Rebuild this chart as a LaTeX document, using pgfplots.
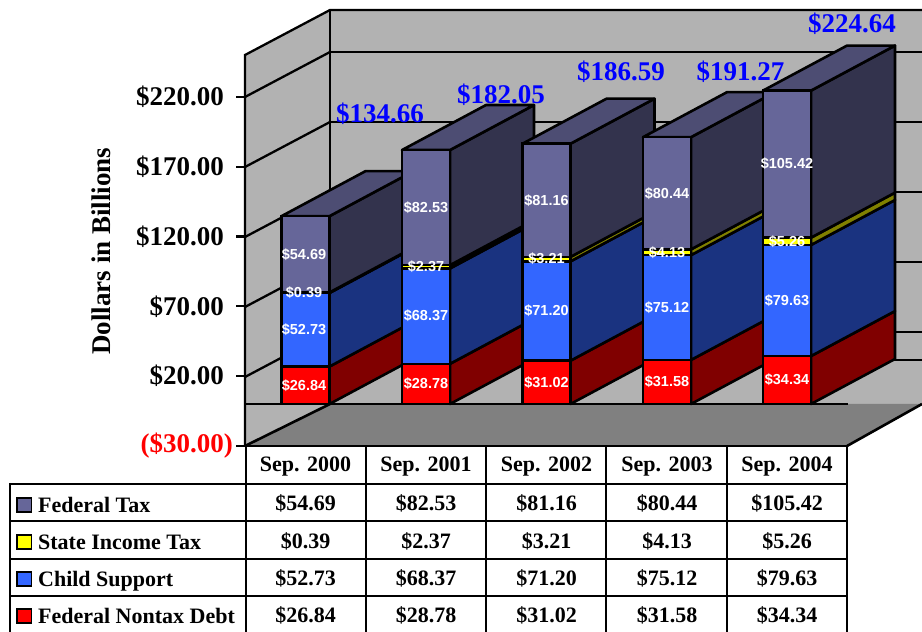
\documentclass[border=0pt]{standalone}
\usepackage{fontspec}
\setmainfont{Liberation Serif}
\newfontfamily\arialfont{Liberation Sans}
\usepackage{pgfplots}
\usepackage{pgfplotstable}
\pgfplotsset{compat=1.18}

\definecolor{wall}{HTML}{B2B2B2}
\definecolor{floorgrey}{HTML}{808080}
\definecolor{fedF}{HTML}{666699}
\definecolor{fedS}{HTML}{33334D}
\definecolor{fedT}{HTML}{4D4D73}
\definecolor{staF}{HTML}{FFFF00}
\definecolor{staS}{HTML}{808000}
\definecolor{chiF}{HTML}{3366FF}
\definecolor{chiS}{HTML}{1A3380}
\definecolor{nonF}{HTML}{FF0000}
\definecolor{nonS}{HTML}{800000}

\pgfplotstableread{
x     nontax child state federal
305.5 26.84  52.73 0.39  54.69
426   28.78  68.37 2.37  82.53
546.5 31.02  71.20 3.21  81.16
667   31.58  75.12 4.13  80.44
787   34.34  79.63 5.26  105.42
}\debts

% value labels, at the middle of each segment
\pgfplotstableread{
x     y      v
304   13.42  26.84
304   53.21  52.73
304   79.77  0.39
304   107.31 54.69
426   14.39  28.78
426   62.97  68.37
426   98.34  2.37
426   140.79 82.53
546.5 15.51  31.02
546.5 66.62  71.20
546.5 103.83 3.21
546.5 146.01 81.16
667   15.79  31.58
667   69.14  75.12
667   108.77 4.13
667   151.05 80.44
787   17.17  34.34
787   74.16  79.63
787   116.60 5.26
787   171.94 105.42
}\seglabels

\pgfplotsset{
  base/.style={
    scale only axis, clip=false,
    at={(245pt,186.15pt)}, anchor=south west,
    width=677pt, height=445.85pt,
    xmin=245, xmax=922, ymin=-30, ymax=289.6,
  },
}

% one side face: colour, right x, bottom, top (depth 84 px, 45 px = 32.26 dollars)
\newcommand\sideface[4]{%
  \pgfmathsetmacro\xb{#2+84}%
  \pgfmathsetmacro\yb{#3+32.26}%
  \pgfmathsetmacro\yt{#4+32.26}%
  \edef\tmp{\noexpand\addplot[fill=#1,draw=black,line width=2.6pt,line join=round]
    coordinates {(#2,#3)(\xb,\yb)(\xb,\yt)(#2,#4)} --cycle;}%
  \tmp}
% left x, right x, top
\newcommand\topface[3]{%
  \pgfmathsetmacro\xa{#1+84}%
  \pgfmathsetmacro\xb{#2+84}%
  \pgfmathsetmacro\yt{#3+32.26}%
  \edef\tmp{\noexpand\addplot[fill=fedT,draw=black,line width=2.6pt,line join=round]
    coordinates {(#1,#3)(\xa,\yt)(\xb,\yt)(#2,#3)} --cycle;}%
  \tmp}
% left x, right x, running totals
\newcommand\barback[6]{%
  \sideface{nonS}{#2}{0}{#3}%
  \sideface{chiS}{#2}{#3}{#4}%
  \sideface{staS}{#2}{#4}{#5}%
  \sideface{fedS}{#2}{#5}{#6}%
  \topface{#1}{#2}{#6}}

\newcommand\tabfont{\fontsize{22}{22}\selectfont\bfseries}
\newcommand\pad{\rule{9pt}{0pt}}

\begin{document}
\begin{tikzpicture}[line cap=butt]
\path[use as bounding box] (0,0) rectangle (922pt,632pt);

% walls and floor, in pixel coordinates
\begin{scope}[x=1pt,y=-1pt,yshift=632pt,line width=2.3pt]
  \fill[wall] (245,55) -- (330,10) -- (922,10) -- (922,404) -- (330,404) -- (245,446) -- cycle;
  \fill[floorgrey] (245,446) -- (847,446) -- (922,404) -- (330,404) -- cycle;
  \draw (245,446) -- (245,55) -- (330,10) -- (922,10);
  \draw (330,10) -- (330,404);
  \foreach \y in {97,167,237,307,377} \draw (245,\y) -- (330,\y-45);
  \foreach \y in {52,122,192,262,332,360} \draw (330,\y) -- (922,\y);
  \draw[line width=2.6pt] (245,446) -- (330,404);
  \draw[line width=2.6pt] (847,446) -- (922,404);
  \draw[line width=2.8pt] (245,404) -- (848,404);
\end{scope}

% ticks, labels and the side and top faces
\begin{axis}[base,
  axis line style={draw=none},
  axis x line*=bottom, axis y line*=left,
  tick align=outside,
  major tick length=9pt,
  ytick={-30,20,70,120,170,220},
  yticklabels={\textcolor{red}{(\$30.00)},\$20.00\pad,\$70.00\pad,\$120.00\pad,\$170.00\pad,\$220.00\pad},
  ytick style={draw=black,line width=2.3pt},
  yticklabel style={font=\fontsize{27}{27}\selectfont\bfseries,inner sep=0pt,xshift=-3pt},
  xtick={305.5,426,546.5,667,787},
  xticklabels={Sep. 2000,Sep. 2001,Sep. 2002,Sep. 2003,Sep. 2004},
  xtick style={draw=none},
  xticklabel style={font=\tabfont,anchor=base,inner sep=0pt,yshift=-17pt},
  ylabel={Dollars in Billions},
  ylabel style={font=\fontsize{27}{27}\selectfont\bfseries,anchor=center,
    at={(axis description cs:-0.2127,0.437)}},
]
\barback{281.5}{329.5}{26.84}{79.57}{79.96}{134.65}
\barback{402}{450}{28.78}{97.15}{99.52}{182.05}
\barback{522.5}{570.5}{31.02}{102.22}{105.43}{186.59}
\barback{643}{691}{31.58}{106.70}{110.83}{191.27}
\barback{763}{811}{34.34}{113.97}{119.23}{224.65}
\end{axis}

% front faces
\begin{axis}[base,
  hide axis,
  ybar stacked, bar width=48pt,
]
\addplot[fill=nonF,draw=black,line width=2.6pt] table[x=x,y=nontax] {\debts};
\addplot[fill=chiF,draw=black,line width=2.6pt] table[x=x,y=child] {\debts};
\addplot[fill=staF,draw=black,line width=2.6pt] table[x=x,y=state] {\debts};
\addplot[fill=fedF,draw=black,line width=2.6pt] table[x=x,y=federal] {\debts};
\end{axis}

% value labels on the front faces
\begin{axis}[base, hide axis]
\addplot[draw=none,mark=none,
  point meta=explicit symbolic,
  nodes near coords={\$\pgfplotspointmeta},
  nodes near coords align={center},
  nodes near coords style={font=\arialfont\fontsize{14.5}{14.5}\selectfont\bfseries,
    text=white,anchor=center,inner sep=0pt},
] table[x=x,y=y,meta=v] {\seglabels};
\end{axis}

% totals and the data table, in pixel coordinates
\begin{scope}[x=1pt,y=-1pt,yshift=632pt,line width=2.3pt]
  \foreach \x/\y/\t in {335/123/134.66,456/104/182.05,576/81/186.59,695.5/81/191.27,807/33/224.64}
    \node[anchor=base west,inner sep=0pt,text={rgb,255:red,0;green,0;blue,255},
      font=\fontsize{27}{27}\selectfont\bfseries] at (\x,\y) {\$\t};
  \foreach \y in {484,521,559,596} \draw (10,\y) -- (847,\y);
  \draw (245,446) -- (847,446);
  \draw (10,483) -- (10,632);
  \foreach \x in {246,366,486,606,727,847} \draw (\x,446) -- (\x,632);
  \foreach \y/\c/\n in {505/fedF/Federal Tax,542/staF/State Income Tax,579/chiF/Child Support,616/nonF/Federal Nontax Debt}{
    \draw[fill=\c,line width=1.8pt] (17,\y-7) rectangle (31.5,\y+7);
    \node[anchor=base west,inner sep=0pt,font=\tabfont] at (37,\y+8) {\n};
  }
  \foreach \x/\a/\b/\c/\d in {305.5/54.69/0.39/52.73/26.84,426/82.53/2.37/68.37/28.78,
      546.5/81.16/3.21/71.20/31.02,667/80.44/4.13/75.12/31.58,787/105.42/5.26/79.63/34.34}{
    \node[anchor=base,inner sep=0pt,font=\tabfont] at (\x,511) {\$\a};
    \node[anchor=base,inner sep=0pt,font=\tabfont] at (\x,548.5) {\$\b};
    \node[anchor=base,inner sep=0pt,font=\tabfont] at (\x,586) {\$\c};
    \node[anchor=base,inner sep=0pt,font=\tabfont] at (\x,623) {\$\d};
  }
\end{scope}
\end{tikzpicture}
\end{document}
